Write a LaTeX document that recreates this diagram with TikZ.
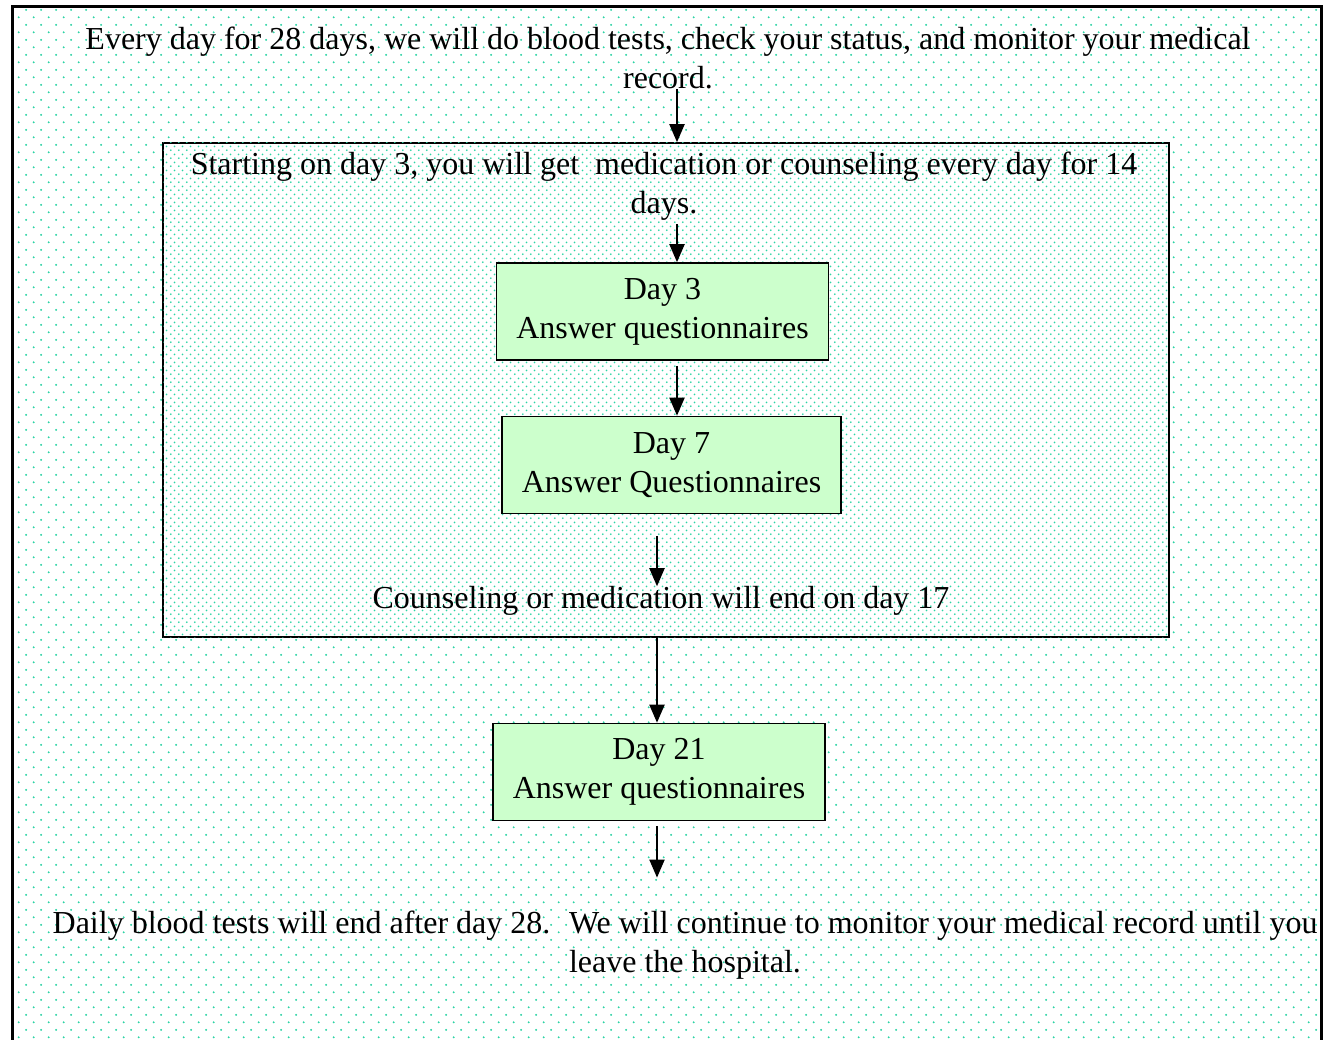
\documentclass[tikz,border=0pt]{standalone}
\usepackage{fontspec}
\setmainfont{Liberation Serif}
\usepackage{xcolor}
\usetikzlibrary{arrows.meta, calc, positioning, patterns.meta}
\definecolor{dotteal}{RGB}{45,212,165}
\definecolor{boxgreen}{RGB}{204,255,204}

% dotted fills
\tikzdeclarepattern{
  name=sparsedots,
  type=uncolored,
  bounding box={(0pt,0pt) and (15.4pt,15.4pt)},
  tile size={(15.4pt,15.4pt)},
  code={
    \fill (3.85pt,3.85pt) circle (1.1pt);
    \fill (11.55pt,11.55pt) circle (1.1pt);
  }
}
\tikzdeclarepattern{
  name=densedots,
  type=uncolored,
  bounding box={(0pt,0pt) and (7.7pt,7.7pt)},
  tile size={(7.7pt,7.7pt)},
  code={
    \fill (1.9pt,1.9pt) circle (1pt);
    \fill (5.75pt,5.75pt) circle (1pt);
  }
}

\begin{document}
\begin{tikzpicture}[x=1pt, y=-1pt, >=Stealth,
    txt/.style={align=center, inner sep=0pt, font=\fontsize{32pt}{39pt}\selectfont},
    daybox/.style={txt, draw, line width=1.6pt, fill=boxgreen, inner xsep=20pt, minimum height=97pt},
    arr/.style={line width=2pt, -{Triangle[length=18pt,width=15pt]}}]
    \useasboundingbox (0,0) rectangle (1323,1040);

    % Outer frame
    \fill[pattern=sparsedots, pattern color=dotteal] (12,7) rectangle (1321,1045);
    \draw[line width=3pt] (12,1045) -- (12,7) -- (1321,7) -- (1321,1045);

    % Treatment phase
    \node[draw, line width=1.6pt, fill=white, postaction={pattern=densedots, pattern color=dotteal},
        minimum width=1006pt, minimum height=494pt, inner sep=0pt] (phase) at (666,390) {};

    % Texts
    \node[txt] (daily) at (668,58) {Every day for 28 days, we will do blood tests, check your status, and monitor your medical\\record.};
    \node[txt] (start) at (664,186) {Starting on day 3, you will get~ medication or counseling every day for 14\\days.};
    \node[txt] (stop) at (661,601) {Counseling or medication will end on day 17};
    \node[txt] (final) at (685,945) {Daily blood tests will end after day 28.~ We will continue to monitor your medical record until you\\leave the hospital.};

    % Questionnaire days
    \node[daybox] (day3) at (662.5,311.5) {Day 3\\Answer questionnaires};
    \node[daybox] (day7) at (671.5,465) {Day 7\\Answer Questionnaires};
    \node[daybox] (day21) at (659,772) {Day 21\\Answer questionnaires};

    % Arrows
    \coordinate (right) at (677,0);
    \coordinate (left) at (657,0);
    \draw[arr] (daily.south -| right) -- (phase.north -| right);
    \draw[arr, shorten <=4pt] (start.south -| right) -- (day3.north -| right);
    \draw[arr, shorten <=5pt] (day3.south -| right) -- (day7.north -| right);
    \draw[arr, shorten <=22pt] (day7.south -| left) -- (stop.north -| left);
    \draw[arr] (phase.south -| left) -- (day21.north -| left);
    \draw[arr, shorten <=5pt, shorten >=33pt] (day21.south -| left) -- (final.north -| left);
\end{tikzpicture}
\end{document}
